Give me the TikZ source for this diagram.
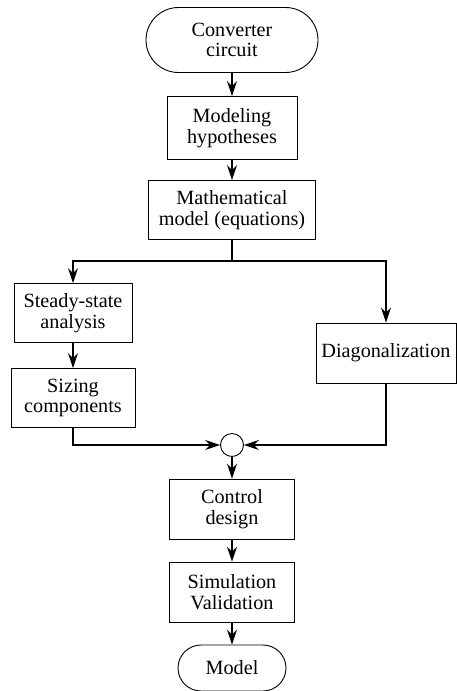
\documentclass[tikz,border=0pt]{standalone}
\usepackage{fontspec}
\setmainfont{Liberation Serif}
\usepackage{tikz}
\usetikzlibrary{shapes,arrows,positioning,calc,arrows.meta}

\tikzset{
    block/.style={draw, line width=0.9pt, rectangle, align=center, inner sep=2pt},
    term/.style={draw, line width=0.9pt, rounded rectangle, align=center, inner sep=2pt},
    link/.style={line width=1.6pt, -{Stealth[length=15pt,width=10pt,inset=5pt]}},
    wire/.style={line width=1.6pt}
}

\begin{document}
\begin{tikzpicture}[x=1pt, y=-1pt, font=\fontsize{20.2}{20.5}\selectfont]
    \useasboundingbox (0,0) rectangle (456,691);

    \node[term, minimum width=176pt, minimum height=65pt] (start) at (232,40) {Converter\\circuit};
    \node[block, minimum width=130pt, minimum height=63pt] (hyp) at (232,128) {Modeling\\hypotheses};
    \node[block, minimum width=167pt, minimum height=59pt] (math) at (232,210) {Mathematical\\model (equations)};
    \coordinate (split) at (232,261);
    \node[block, minimum width=118pt, minimum height=59pt] (steady) at (73,313) {Steady-state\\analysis};
    \node[block, minimum width=124pt, minimum height=59pt] (sizing) at (73,398) {Sizing\\components};
    \node[block, minimum width=140pt, minimum height=60pt] (diag) at (386,353) {Diagonalization};
    \node[draw, line width=0.9pt, circle, minimum size=23pt, inner sep=0pt] (merge) at (232,445) {};
    \node[block, minimum width=125pt, minimum height=60pt] (ctrl) at (232,509) {Control\\design};
    \node[block, minimum width=125pt, minimum height=60pt] (sim) at (232,592) {Simulation\\Validation};
    \node[term, minimum width=112pt, minimum height=46pt] (model) at (232,668) {Model};

    \draw[link] (start) -- (hyp);
    \draw[link] (hyp) -- (math);
    \draw[wire] (math) -- (split); % branch point
    \draw[link] (split) -| (steady);
    \draw[link] (split) -| (diag);
    \draw[link] (steady) -- (sizing);
    \draw[link] (sizing) |- (merge); % join left
    \draw[link] (diag) |- (merge); % join right
    \draw[link] (merge) -- (ctrl);
    \draw[link] (ctrl) -- (sim);
    \draw[link] (sim) -- (model);
\end{tikzpicture}
\end{document}
